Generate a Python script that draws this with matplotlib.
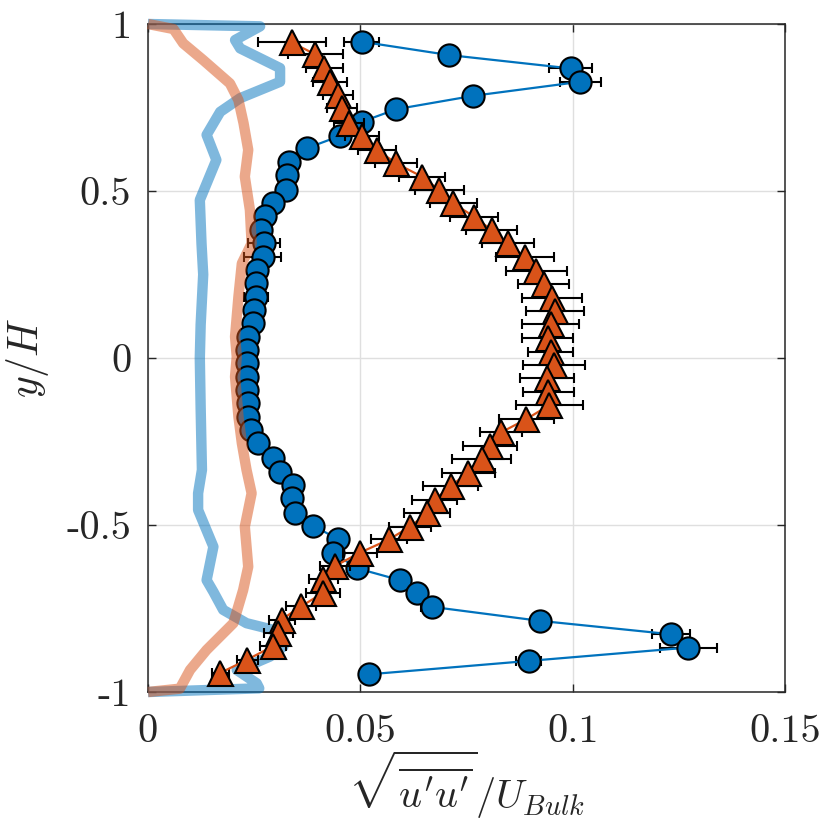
import matplotlib
matplotlib.use('Agg')
import matplotlib.pyplot as plt

plt.rcParams['mathtext.fontset'] = 'cm'
plt.rcParams['axes.unicode_minus'] = False

# ---- blue circles (series 1) ----
blue_y = [0.947, 0.907, 0.867, 0.827, 0.785, 0.745, 0.707, 0.665, 0.628, 0.588,
          0.548, 0.503, 0.465, 0.426, 0.383, 0.343, 0.303, 0.263, 0.224, 0.184,
          0.144, 0.104, 0.064, 0.024, -0.016, -0.056, -0.096, -0.136, -0.176, -0.216,
          -0.255, -0.300, -0.340, -0.380, -0.420, -0.463, -0.502, -0.543, -0.583, -0.630,
          -0.665, -0.704, -0.745, -0.787, -0.827, -0.867, -0.907, -0.947]
blue_x = [0.0503, 0.0709, 0.0995, 0.1018, 0.0766, 0.0585, 0.0503, 0.0452, 0.0374, 0.0333,
          0.0327, 0.0324, 0.0294, 0.0275, 0.0265, 0.0273, 0.0270, 0.0256, 0.0254, 0.0254,
          0.0250, 0.0248, 0.0236, 0.0234, 0.0234, 0.0234, 0.0234, 0.0236, 0.0236, 0.0243,
          0.0260, 0.0295, 0.0311, 0.0342, 0.0338, 0.0346, 0.0389, 0.0448, 0.0436, 0.0493,
          0.0593, 0.0633, 0.0668, 0.0923, 0.1231, 0.1272, 0.0896, 0.0521]
blue_err = [0.0042, 0.0020, 0.0051, 0.0049, 0.0020, 0.0020, 0.0020, 0.0020, 0.0020, 0.0020,
            0.0020, 0.0020, 0.0020, 0.0020, 0.0020, 0.0037, 0.0044, 0.0020, 0.0020, 0.0029,
            0.0020, 0.0020, 0.0020, 0.0020, 0.0020, 0.0020, 0.0020, 0.0020, 0.0020, 0.0020,
            0.0020, 0.0020, 0.0020, 0.0020, 0.0020, 0.0020, 0.0020, 0.0020, 0.0020, 0.0020,
            0.0020, 0.0020, 0.0025, 0.0020, 0.0045, 0.0067, 0.0030, 0.0020]

# ---- orange triangles (series 2) ----
orange_y = [0.945, 0.909, 0.867, 0.827, 0.787, 0.748, 0.705, 0.665, 0.623, 0.583,
            0.543, 0.503, 0.463, 0.423, 0.383, 0.343, 0.301, 0.261, 0.222, 0.179,
            0.141, 0.101, 0.059, 0.019, -0.021, -0.061, -0.103, -0.141, -0.183, -0.223,
            -0.263, -0.303, -0.343, -0.383, -0.425, -0.465, -0.505, -0.543, -0.583, -0.623,
            -0.663, -0.703, -0.743, -0.783, -0.823, -0.863, -0.903, -0.943]
orange_x = [0.0338, 0.0394, 0.0415, 0.0429, 0.0447, 0.0456, 0.0474, 0.0503, 0.0540, 0.0584,
            0.0645, 0.0686, 0.0719, 0.0768, 0.0809, 0.0848, 0.0888, 0.0914, 0.0932, 0.0951,
            0.0958, 0.0948, 0.0941, 0.0948, 0.0957, 0.0940, 0.0943, 0.0945, 0.0891, 0.0831,
            0.0805, 0.0786, 0.0754, 0.0713, 0.0675, 0.0657, 0.0617, 0.0568, 0.0499, 0.0440,
            0.0413, 0.0413, 0.0361, 0.0315, 0.0307, 0.0294, 0.0234, 0.0170]
orange_err = [0.0080, 0.0065, 0.0044, 0.0040, 0.0035, 0.0035, 0.0035, 0.0040, 0.0045, 0.0050,
              0.0055, 0.0058, 0.0056, 0.0057, 0.0061, 0.0062, 0.0069, 0.0072, 0.0060, 0.0071,
              0.0068, 0.0068, 0.0060, 0.0053, 0.0073, 0.0063, 0.0059, 0.0079, 0.0065, 0.0049,
              0.0064, 0.0069, 0.0062, 0.0065, 0.0053, 0.0054, 0.0050, 0.0043, 0.0040, 0.0035,
              0.0035, 0.0040, 0.0035, 0.0030, 0.0035, 0.0030, 0.0025, 0.0020]

# ---- thick translucent profiles ----
bprof_x = [0.0, 0.0264, 0.0205, 0.0217, 0.0311, 0.0311, 0.0217, 0.0170, 0.0138, 0.0161,
           0.0122, 0.0126, 0.0130, 0.0124, 0.0122, 0.0124, 0.0127, 0.0118, 0.0118, 0.0154,
           0.0138, 0.0154, 0.0177, 0.0232, 0.0295, 0.0319, 0.0287, 0.0232, 0.0209, 0.0256,
           0.0262, 0.0]
bprof_y = [1.0, 0.993, 0.952, 0.927, 0.868, 0.827, 0.778, 0.737, 0.668, 0.593,
           0.473, 0.343, 0.250, 0.100, 0.000, -0.150, -0.335, -0.405, -0.455, -0.565,
           -0.665, -0.700, -0.754, -0.794, -0.814, -0.864, -0.894, -0.924, -0.934, -0.974,
           -0.989, -1.0]
oprof_x = [0.0, 0.0060, 0.0083, 0.0130, 0.0193, 0.0213, 0.0225, 0.0236, 0.0228, 0.0240,
           0.0244, 0.0221, 0.0213, 0.0205, 0.0209, 0.0205, 0.0213, 0.0221, 0.0232, 0.0244,
           0.0228, 0.0236, 0.0224, 0.0201, 0.0138, 0.0099, 0.0075, 0.0]
oprof_y = [1.0, 0.985, 0.942, 0.892, 0.822, 0.772, 0.703, 0.623, 0.543, 0.443,
           0.343, 0.283, 0.184, 0.064, 0.004, -0.056, -0.176, -0.255, -0.335, -0.405,
           -0.505, -0.625, -0.695, -0.794, -0.874, -0.934, -0.990, -1.0]

x_ticks = [0, 0.05, 0.1, 0.15]
x_tick_labels = ['0', '0.05', '0.1', '0.15']
y_ticks = [-1, -0.5, 0, 0.5, 1]
y_tick_labels = ['-1', '-0.5', '0', '0.5', '1']

BLUE = '#0072BD'
ORANGE = '#D95319'

fig = plt.figure(figsize=(8.28, 8.30), dpi=100)
ax = fig.add_axes([148/828, 1-692/830, 637/828, 668/830])

ax.errorbar(blue_x, blue_y, xerr=blue_err, fmt='none', ecolor='k',
            elinewidth=1.5, capsize=3.5, capthick=1.5, zorder=2)
ax.plot(blue_x, blue_y, '-', color=BLUE, lw=1.6, marker='o', ms=16,
        mfc=BLUE, mec='k', mew=1.5, zorder=3)

ax.plot(bprof_x, bprof_y, color=BLUE, alpha=0.5, lw=7.5, zorder=4,
        solid_joinstyle='round', solid_capstyle='butt', clip_on=False)
ax.plot(oprof_x, oprof_y, color=ORANGE, alpha=0.5, lw=7.5, zorder=5,
        solid_joinstyle='round', solid_capstyle='butt', clip_on=False)

ax.errorbar(orange_x, orange_y, xerr=orange_err, fmt='none', ecolor='k',
            elinewidth=1.5, capsize=3.5, capthick=1.5, zorder=6)
ax.plot(orange_x, orange_y, '-', color=ORANGE, lw=1.6, marker='^', ms=18,
        mfc=ORANGE, mec='k', mew=1.5, zorder=7)

ax.set_xlim(0, 0.15)
ax.set_ylim(-1, 1)
ax.set_xticks(x_ticks)
ax.set_xticklabels(x_tick_labels, fontfamily='cmr10', fontsize=29)
ax.set_yticks(y_ticks)
ax.set_yticklabels(y_tick_labels, fontfamily='cmr10', fontsize=29)
ax.tick_params(direction='in', length=6, width=1.0, top=True, right=True,
               color='#262626', labelcolor='#262626')
ax.tick_params(axis='x', pad=16)
ax.tick_params(axis='y', pad=12)
ax.grid(True, color='#dfdfdf', lw=1.0)
ax.set_axisbelow(True)
for s in ax.spines.values():
    s.set_color('#262626')
    s.set_linewidth(1.1)

ax.set_xlabel(r"$\sqrt{\overline{u^{\prime}u^{\prime}}}/U_{Bulk}$", fontsize=29, color='#262626')
ax.xaxis.set_label_coords(0.5, -0.085)
ax.set_ylabel(r"$y/H$", fontsize=30, color='#262626')
ax.yaxis.set_label_coords(-0.152, 0.5)

fig.savefig('out.png', dpi=100)
